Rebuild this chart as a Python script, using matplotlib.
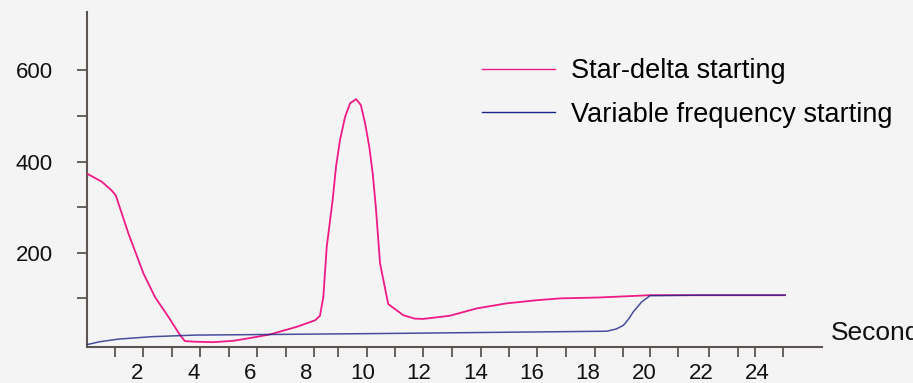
import matplotlib
matplotlib.use("Agg")
import matplotlib.pyplot as plt

plt.rcParams['font.family'] = ['Liberation Sans', 'DejaVu Sans']

# Star-delta starting (pink)
star_t = [0.22, 0.75, 1.10, 1.25, 1.70, 2.23, 2.64, 3.11, 3.53, 3.70, 4.06, 4.71, 5.42, 6.01,
          6.72, 7.67, 8.32, 8.49, 8.61, 8.73, 8.94, 9.06, 9.20, 9.38, 9.56, 9.77, 9.94,
          10.09, 10.24, 10.36, 10.47, 10.62, 10.91, 11.45, 11.86, 12.16, 13.10, 14.05,
          15.10, 16.18, 17.00, 18.40, 20.20, 22.00, 24.98]
star_v = [374, 356, 337, 326, 242, 155, 103, 60, 19.5, 6.4, 5, 4, 7, 13,
          21, 37.7, 52, 62, 103, 213, 316, 389, 447, 498, 528, 537, 524,
          484, 432, 374, 301, 177, 87.5, 63, 55.5, 55, 62, 78,
          89, 96, 100, 102, 107, 107, 107]

# Variable frequency starting (navy)
vf_t = [0.22, 0.69, 1.34, 2.52, 4.06, 6.01, 10.74, 15.47, 18.66, 19.00, 19.25, 19.45,
        19.60, 19.90, 20.20, 22.00, 24.98]
vf_v = [-1.5, 5, 10.7, 16, 19.5, 20.5, 23, 26, 28, 33, 41, 56,
        70.6, 92.5, 106, 107, 107]

xtick_labels = [2, 4, 6, 8, 10, 12, 14, 16, 18, 20, 22, 24]
x_minor = [1.22, 2.23, 3.23, 4.24, 5.26, 6.27, 7.29, 8.29, 9.14, 10.15, 11.15, 12.16,
           13.16, 14.19, 15.2, 16.2, 17.2, 18.25, 19.25, 20.2, 21.2, 22.3, 23.3, 23.9, 24.9]
ytick_labels = [200, 400, 600]
y_minor = [100, 300, 500]

bg = '#f4f4f4'
axcol = '#5c5552'
pink = '#ee1a86'
navy = '#1b2585'

fig = plt.figure(figsize=(9.13, 3.83), dpi=100, facecolor=bg)
ax = fig.add_axes([87/913, (383-347)/383, (821.7-87)/913, (347-12)/383])
ax.set_facecolor(bg)

ax.plot(star_t, star_v, color=pink, lw=1.3, label='Star-delta starting', zorder=3,
        solid_joinstyle='round')
ax.plot(vf_t, vf_v, color=navy, lw=1.1, alpha=0.8, label='Variable frequency starting',
        zorder=4, solid_joinstyle='round')

ax.set_xlim(0.23, 26.28)
ax.set_ylim(-6.6, 728)

for s in ['top', 'right']:
    ax.spines[s].set_visible(False)
for s in ['left', 'bottom']:
    ax.spines[s].set_color(axcol)
    ax.spines[s].set_linewidth(1.5)

ax.set_xticks(xtick_labels)
ax.set_xticklabels([str(v) for v in xtick_labels], fontsize=16)
ax.set_xticks(x_minor, minor=True)
ax.tick_params(axis='x', which='major', length=0, pad=11.5, colors='#111111')
ax.tick_params(axis='x', which='minor', length=7.5, width=1.3, color=axcol, direction='out')

ax.set_yticks(ytick_labels)
ax.set_yticklabels([str(v) for v in ytick_labels], fontsize=16)
ax.set_yticks(y_minor, minor=True)
ax.tick_params(axis='y', which='both', length=7.5, width=1.3, color=axcol, direction='out')
ax.tick_params(axis='y', which='major', pad=17, labelcolor='#111111')

leg = ax.legend(loc='upper left', bbox_to_anchor=(481.7/913, (383-58)/383),
                bbox_transform=fig.transFigure, frameon=False, fontsize=19.5,
                handlelength=2.7, handletextpad=0.6, labelspacing=0.66,
                borderpad=0, borderaxespad=0)
for line in leg.get_lines():
    line.set_alpha(1.0)
    line.set_linewidth(1.0)

fig.text(831/913, (383-340)/383, 'Seconds', fontsize=19, color='#111111',
         ha='left', va='baseline')

fig.savefig('out.png', dpi=100, facecolor=bg)
